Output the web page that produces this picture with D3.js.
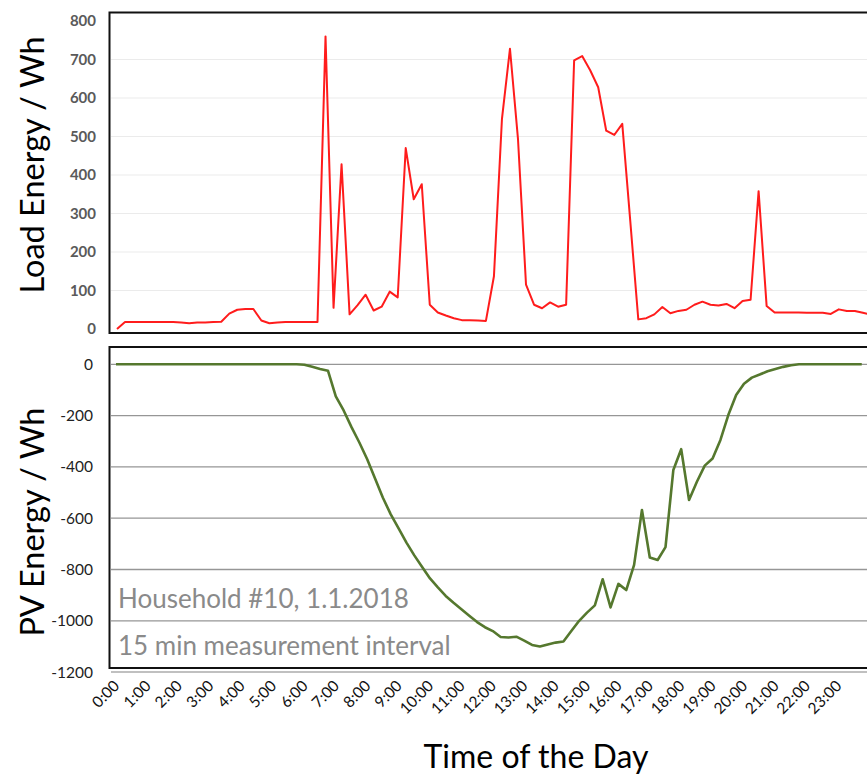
<!DOCTYPE html>
<html><head><meta charset="utf-8">
<script src="https://cdn.jsdelivr.net/npm/d3@7"></script>
<style>
html,body{margin:0;padding:0;background:#fff;}
svg{display:block;}
text{font-family:Lato,"Open Sans",sans-serif;}
</style></head>
<body>
<svg id="chart" width="867" height="776"></svg>
<script>
// ---- data ----
const slots = d3.range(96).map(i => Math.floor(i / 4) + ":" + String((i % 4) * 15).padStart(2, "0"));
const hourLabels = ["0:00","1:00","2:00","3:00","4:00","5:00","6:00","7:00","8:00","9:00","10:00","11:00",
  "12:00","13:00","14:00","15:00","16:00","17:00","18:00","19:00","20:00","21:00","22:00","23:00"];
const loadTicks = [0,100,200,300,400,500,600,700,800];
const pvTicks = [0,-200,-400,-600,-800,-1000,-1200];
const loadWh = [
  0,18,18,18,18,18,18,18,17,15,17,17,18,19,40,50,52,52,22,15,17,18,18,18,18,18,
  760,55,428,38,62,89,48,58,97,82,470,337,376,63,43,35,28,23,23,22,21,137,546,728,
  493,115,63,54,69,58,63,698,709,672,628,515,504,533,280,25,28,38,57,41,47,50,63,71,
  63,61,65,54,73,76,358,60,43,43,43,43,42,42,42,39,51,47,47,42,37,35];
const pvWh = [
  0,0,0,0,0,0,0,0,0,0,0,0,0,0,0,0,0,0,0,0,0,0,0,0,
  -2,-10,-18,-25,-125,-180,-245,-305,-370,-445,-520,-585,-640,-695,-745,-790,-835,-870,
  -903,-930,-955,-980,-1005,-1025,-1040,-1063,-1065,-1062,-1077,-1094,-1100,-1092,-1085,
  -1081,-1040,-1000,-968,-940,-838,-948,-856,-880,-782,-568,-753,-763,-713,-412,-331,
  -529,-458,-395,-367,-295,-198,-120,-76,-52,-40,-27,-18,-10,-4,0,0,0,0,0,0,0,0,0];
const annotations = ["Household #10, 1.1.2018", "15 min measurement interval"];

// ---- drawing ----
const svg = d3.select("#chart");
const plain = d => String(d);

// top chart: load
const xTop = d3.scalePoint().domain(slots).range([117, 117 + 95 * 8.02]);
const yTop = d3.scaleLinear().domain([0, 800]).range([329, 21]);

svg.append("g").selectAll("line").data(loadTicks.filter(d => d > 0 && d < 800)).join("line")
  .attr("x1", 111).attr("x2", 867).attr("y1", d => yTop(d)).attr("y2", d => yTop(d))
  .attr("stroke", "#ebebeb").attr("stroke-width", 1.2);

const gyTop = svg.append("g").attr("transform", "translate(96,0)")
  .call(d3.axisLeft(yTop).tickValues(loadTicks).tickFormat(plain).tickSize(0).tickPadding(0));
gyTop.select(".domain").remove();
gyTop.selectAll("text").attr("font-size", 15).attr("font-weight", 700).attr("fill", "#5a5a5a")
  .style("font-family", "Lato, sans-serif");

svg.append("path").datum(loadWh)
  .attr("fill", "none").attr("stroke", "#ff1c1c").attr("stroke-width", 2)
  .attr("stroke-linejoin", "round")
  .attr("d", d3.line().x((d, i) => xTop(slots[i])).y(d => yTop(d)));

svg.append("rect").attr("x", 109.5).attr("y", 12.5).attr("width", 800).attr("height", 320.5)
  .attr("fill", "none").attr("stroke", "#111").attr("stroke-width", 2);

svg.append("text").attr("transform", "translate(44,165) rotate(-90)")
  .attr("text-anchor", "middle").attr("font-size", 32.5).attr("fill", "#000")
  .text("Load Energy / Wh");

// bottom chart: PV
const xBot = d3.scalePoint().domain(slots).range([116, 116 + 95 * 7.85]);
const yBot = d3.scaleLinear().domain([-1200, 0]).range([672.1, 364.3]);

svg.append("g").selectAll("line").data(pvTicks).join("line")
  .attr("x1", 111).attr("x2", 867).attr("y1", d => yBot(d)).attr("y2", d => yBot(d))
  .attr("stroke", d => d === -1200 ? "#c0c0c0" : "#969696").attr("stroke-width", d => d === -1200 ? 2 : 1.3);

const gyBot = svg.append("g").attr("transform", "translate(93,0)")
  .call(d3.axisLeft(yBot).tickValues(pvTicks).tickFormat(plain).tickSize(0).tickPadding(0));
gyBot.select(".domain").remove();
gyBot.selectAll("text").attr("font-size", 15.5).attr("fill", "#222")
  .style("font-family", "Lato, sans-serif");

svg.append("path").datum(pvWh)
  .attr("fill", "none").attr("stroke", "#55782e").attr("stroke-width", 2.6)
  .attr("stroke-linejoin", "round")
  .attr("d", d3.line().x((d, i) => xBot(slots[i])).y(d => yBot(d)));

svg.append("rect").attr("x", 109.5).attr("y", 347).attr("width", 800).attr("height", 321)
  .attr("fill", "none").attr("stroke", "#111").attr("stroke-width", 2);

svg.append("text").attr("transform", "translate(44,522) rotate(-90)")
  .attr("text-anchor", "middle").attr("font-size", 32.5).attr("fill", "#000")
  .text("PV Energy / Wh");

svg.append("g").selectAll("text").data(annotations).join("text")
  .attr("x", 118).attr("y", (d, i) => 608 + i * 47)
  .attr("font-size", 26).attr("fill", "#8a8a8a").text(d => d);

// x axis labels
const gx = svg.append("g").attr("transform", "translate(0,683)")
  .call(d3.axisBottom(xBot).tickValues(hourLabels).tickSize(0).tickPadding(0));
gx.select(".domain").remove();
gx.selectAll("text")
  .attr("font-size", 15.5).attr("fill", "#111").attr("text-anchor", "end")
  .attr("dy", "0.35em").attr("dx", 0).attr("y", 0)
  .attr("transform", "rotate(-45)")
  .style("font-family", "Lato, sans-serif");

svg.append("text").attr("x", 536).attr("y", 768).attr("text-anchor", "middle")
  .attr("font-size", 32).attr("fill", "#000").text("Time of the Day");
</script>
</body></html>
